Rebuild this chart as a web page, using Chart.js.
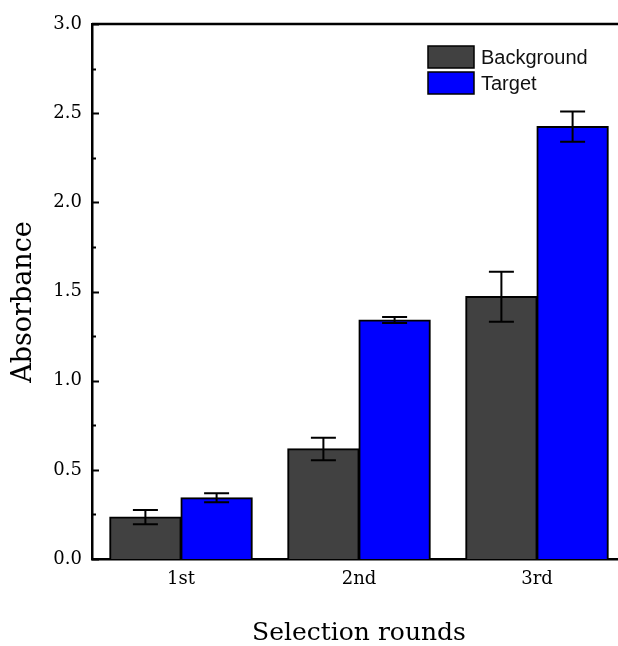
<!DOCTYPE html>
<html>
<head>
<meta charset="utf-8">
<title>Absorbance by selection round</title>
<script src="https://cdn.jsdelivr.net/npm/chart.js@4"></script>
<style>
  html, body { margin: 0; padding: 0; background: #fff; overflow: hidden; }
  #wrap { width: 640px; height: 646px; }
</style>
</head>
<body>
<div id="wrap"><canvas id="absChart" width="640" height="646"></canvas></div>
<script>
const rounds = ['1st', '2nd', '3rd'];
const backgroundMean = [0.235, 0.617, 1.471];
const backgroundErr = [0.040, 0.063, 0.140];
const targetMean = [0.343, 1.340, 2.425];
const targetErr = [0.025, 0.017, 0.085];
const yTicks = [0, 0.5, 1.0, 1.5, 2.0, 2.5, 3.0];

const serif = '"DejaVu Serif", serif';
const sans = '"Liberation Sans", Arial, sans-serif';

// error bars, inward ticks, frame, y title and legend drawn on top of the bars
const extras = {
  id: 'extras',
  afterDatasetsDraw(chart) {
    const ctx = chart.ctx;
    const y = chart.scales.y;
    const area = chart.chartArea;
    ctx.save();
    ctx.strokeStyle = '#000';
    ctx.lineWidth = 2;
    chart.data.datasets.forEach((ds, di) => {
      const meta = chart.getDatasetMeta(di);
      meta.data.forEach((bar, i) => {
        const hi = y.getPixelForValue(ds.data[i] + ds.errors[i]);
        const lo = y.getPixelForValue(ds.data[i] - ds.errors[i]);
        ctx.beginPath();
        ctx.moveTo(bar.x, hi);
        ctx.lineTo(bar.x, lo);
        ctx.moveTo(bar.x - 12.5, hi);
        ctx.lineTo(bar.x + 12.5, hi);
        ctx.moveTo(bar.x - 12.5, lo);
        ctx.lineTo(bar.x + 12.5, lo);
        ctx.stroke();
      });
    });

    // major and minor ticks pointing into the plot
    ctx.lineWidth = 2;
    for (let v = y.min; v <= y.max + 1e-9; v += 0.25) {
      const py = Math.round(y.getPixelForValue(v)) + 0.5;
      const major = Math.abs(v * 2 - Math.round(v * 2)) < 1e-6;
      ctx.beginPath();
      ctx.moveTo(area.left, py);
      ctx.lineTo(area.left + (major ? 7 : 4), py);
      ctx.stroke();
    }

    // top and right frame lines
    ctx.lineWidth = 2.5;
    ctx.beginPath();
    ctx.moveTo(area.left, area.top);
    ctx.lineTo(area.right, area.top);
    ctx.lineTo(area.right, area.bottom);
    ctx.stroke();

    // y axis title
    ctx.save();
    ctx.translate(24, 302);
    ctx.rotate(-Math.PI / 2);
    ctx.font = '27px ' + serif;
    ctx.fillStyle = '#000';
    ctx.textAlign = 'center';
    ctx.textBaseline = 'middle';
    ctx.fillText('Absorbance', 0, 0);
    ctx.restore();

    // legend
    const lx = 428, ly = 46, bw = 46, bh = 22, step = 26;
    ctx.font = '20px ' + sans;
    ctx.textBaseline = 'middle';
    ctx.textAlign = 'left';
    chart.data.datasets.forEach((ds, di) => {
      const top = ly + di * step;
      ctx.fillStyle = ds.backgroundColor;
      ctx.fillRect(lx, top, bw, bh);
      ctx.lineWidth = 1.5;
      ctx.strokeStyle = '#000';
      ctx.strokeRect(lx, top, bw, bh);
      ctx.fillStyle = '#111';
      ctx.fillText(ds.label, lx + 53, top + bh / 2 + 1);
    });
    ctx.restore();
  }
};

new Chart(document.getElementById('absChart'), {
  type: 'bar',
  data: {
    labels: rounds,
    datasets: [
      {
        label: 'Background',
        data: backgroundMean,
        errors: backgroundErr,
        backgroundColor: '#414141',
        borderColor: '#000',
        borderWidth: 2,
        inflateAmount: 0.6,
      },
      {
        label: 'Target',
        data: targetMean,
        errors: targetErr,
        backgroundColor: '#0000ff',
        borderColor: '#000',
        borderWidth: 2,
        inflateAmount: 0.6,
      },
    ],
  },
  options: {
    responsive: false,
    animation: false,
    events: [],
    layout: { padding: { top: 24, right: 14, left: 0, bottom: 0 } },
    datasets: { bar: { categoryPercentage: 0.8, barPercentage: 1.0 } },
    plugins: { legend: { display: false }, tooltip: { enabled: false } },
    scales: {
      x: {
        grid: { display: false, drawTicks: false },
        border: { display: true, color: '#000', width: 2.5 },
        ticks: { color: '#000', font: { family: serif, size: 18 }, padding: 10 },
        title: {
          display: true,
          text: 'Selection rounds',
          color: '#000',
          font: { family: serif, size: 25, lineHeight: 1.0 },
          padding: { top: 20, bottom: 0 },
        },
        afterFit(scale) { scale.height = 87; },
      },
      y: {
        min: 0,
        max: 3,
        afterBuildTicks(scale) { scale.ticks = yTicks.map(v => ({ value: v })); },
        grid: { display: false, drawTicks: false },
        border: { display: true, color: '#000', width: 2.5 },
        ticks: {
          color: '#000',
          font: { family: serif, size: 18 },
          padding: 10,
          callback: v => v.toFixed(1),
        },
        afterFit(scale) { scale.width = 92; },
      },
    },
  },
  plugins: [extras],
});
</script>
</body>
</html>
